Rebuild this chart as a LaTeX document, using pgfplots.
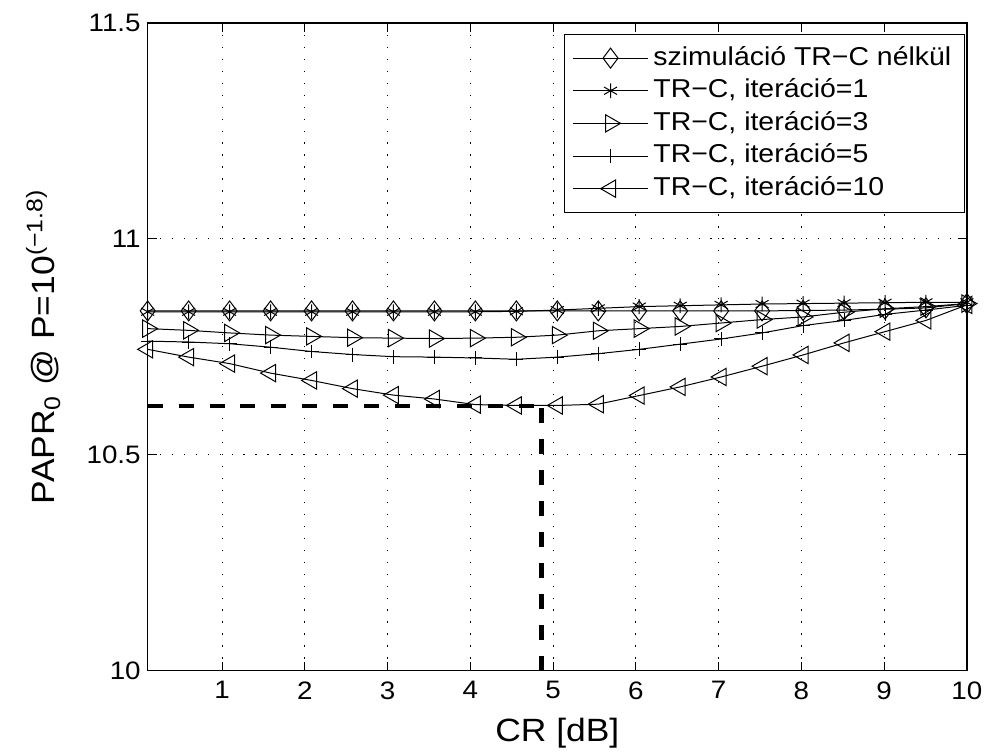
\documentclass[border=0pt]{standalone}
\usepackage{fontspec}
\setmainfont{Liberation Sans}[FakeStretch=1.1]
\usepackage{pgfplots}
\pgfplotsset{compat=1.18}
\begin{document}
\begin{tikzpicture}
\begin{axis}[
  scale only axis, width=410.5bp, height=324.5bp,
  xmin=0.1, xmax=10, ymin=10, ymax=11.5,
  xtick={1,2,3,4,5,6,7,8,9,10},
  ytick={10,10.5,11,11.5},
  yticklabels={10,10.5,11,11.5},
  tick align=inside, major tick length=4.5bp,
  grid=major,
  major grid style={black, line width=0.5bp, dash pattern=on 0.6bp off 5.4bp},
  axis line style={line width=0.65bp},
  every tick/.style={black, line width=0.5bp},
  tick label style={font=\fontsize{12.7}{15}\selectfont},
  xticklabel style={yshift=-2bp},
  /pgf/number format/assume math mode=true,
  label style={font=\fontsize{16.2}{19}\selectfont},
  xlabel={CR [dB]},
  ylabel={PAPR\textsubscript{0} @ P=10\textsuperscript{(−1.8)}},
  xlabel style={at={(axis description cs:0.5,-0.1095)}, anchor=base},
  ylabel style={at={(axis description cs:-0.1133,0.5)}, anchor=base},
  every axis plot/.append style={black, line width=0.5bp},
  legend style={at={(axis description cs:1,1)}, anchor=north east, xshift=-1bp, yshift=-5.5bp,
    draw=black, line width=0.65bp, fill=white, font=\fontsize{13}{15.6}\selectfont,
    inner xsep=4bp, inner ysep=5.8bp, row sep=4.35bp,
    nodes={inner xsep=2.5bp, inner ysep=0bp, text height=9.5bp, text depth=2.5bp},
    cells={anchor=west}},
  legend image code/.code={\draw[mark repeat=2, mark phase=2, #1] plot coordinates {(0bp,0bp) (18.75bp,0bp) (37.5bp,0bp)};},
]
% szimulacio TR-C nelkul
\addplot[mark=diamond, mark size=5bp] coordinates {
(0.1,10.833) (0.595,10.833) (1.09,10.833) (1.585,10.833) (2.08,10.833) (2.575,10.833) (3.07,10.833) (3.565,10.833) (4.06,10.833) (4.555,10.833) (5.05,10.833) (5.545,10.833) (6.04,10.833) (6.535,10.833) (7.03,10.833) (7.525,10.833) (8.02,10.834) (8.515,10.835) (9.01,10.837) (9.505,10.840) (10,10.850)};
\addlegendentry{szimuláció TR−C nélkül}
% iteracio=1
\addplot[mark=asterisk, mark size=3.75bp] coordinates {
(0.1,10.831) (0.595,10.831) (1.09,10.831) (1.585,10.831) (2.08,10.831) (2.575,10.831) (3.07,10.831) (3.565,10.831) (4.06,10.831) (4.555,10.832) (5.05,10.835) (5.545,10.839) (6.04,10.843) (6.535,10.845) (7.03,10.847) (7.525,10.849) (8.02,10.850) (8.515,10.851) (9.01,10.852) (9.505,10.853) (10,10.853)};
\addlegendentry{TR−C, iteráció=1}
% iteracio=3
\addplot[mark=triangle, mark size=5bp, mark options={rotate=-90}] coordinates {
(0.1,10.792) (0.595,10.788) (1.09,10.782) (1.585,10.777) (2.08,10.774) (2.575,10.771) (3.07,10.770) (3.565,10.769) (4.06,10.770) (4.555,10.772) (5.05,10.777) (5.545,10.787) (6.04,10.792) (6.535,10.797) (7.03,10.805) (7.525,10.813) (8.02,10.819) (8.515,10.830) (9.01,10.838) (9.505,10.843) (10,10.850)};
\addlegendentry{TR−C, iteráció=3}
% iteracio=5
\addplot[mark=+, mark size=3.5bp] coordinates {
(0.1,10.763) (0.595,10.761) (1.09,10.757) (1.585,10.749) (2.08,10.739) (2.575,10.732) (3.07,10.727) (3.565,10.726) (4.06,10.724) (4.555,10.721) (5.05,10.726) (5.545,10.734) (6.04,10.744) (6.535,10.756) (7.03,10.768) (7.525,10.782) (8.02,10.799) (8.515,10.811) (9.01,10.825) (9.505,10.835) (10,10.846)};
\addlegendentry{TR−C, iteráció=5}
% iteracio=10
\addplot[mark=triangle, mark size=5bp, mark options={rotate=90}] coordinates {
(0.1,10.744) (0.595,10.726) (1.09,10.711) (1.585,10.689) (2.08,10.672) (2.575,10.653) (3.07,10.638) (3.565,10.629) (4.06,10.616) (4.555,10.614) (5.05,10.614) (5.545,10.617) (6.04,10.637) (6.535,10.657) (7.03,10.680) (7.525,10.705) (8.02,10.731) (8.515,10.759) (9.01,10.785) (9.505,10.811) (10,10.847)};
\addlegendentry{TR−C, iteráció=10}
% dashed guide lines
\addplot[forget plot, line width=2.2bp, dash pattern=on 7.5bp off 8bp] coordinates {(0.1,10.613) (4.86,10.613)};
\addplot[forget plot, line width=2.2bp, dash pattern=on 7.5bp off 8bp] coordinates {(4.86,10) (4.86,10.613)};
\end{axis}
\path[use as bounding box] ([xshift=-74bp,yshift=-41bp]current axis.south west) rectangle ([xshift=10bp,yshift=11.5bp]current axis.north east);
\end{tikzpicture}
\end{document}
